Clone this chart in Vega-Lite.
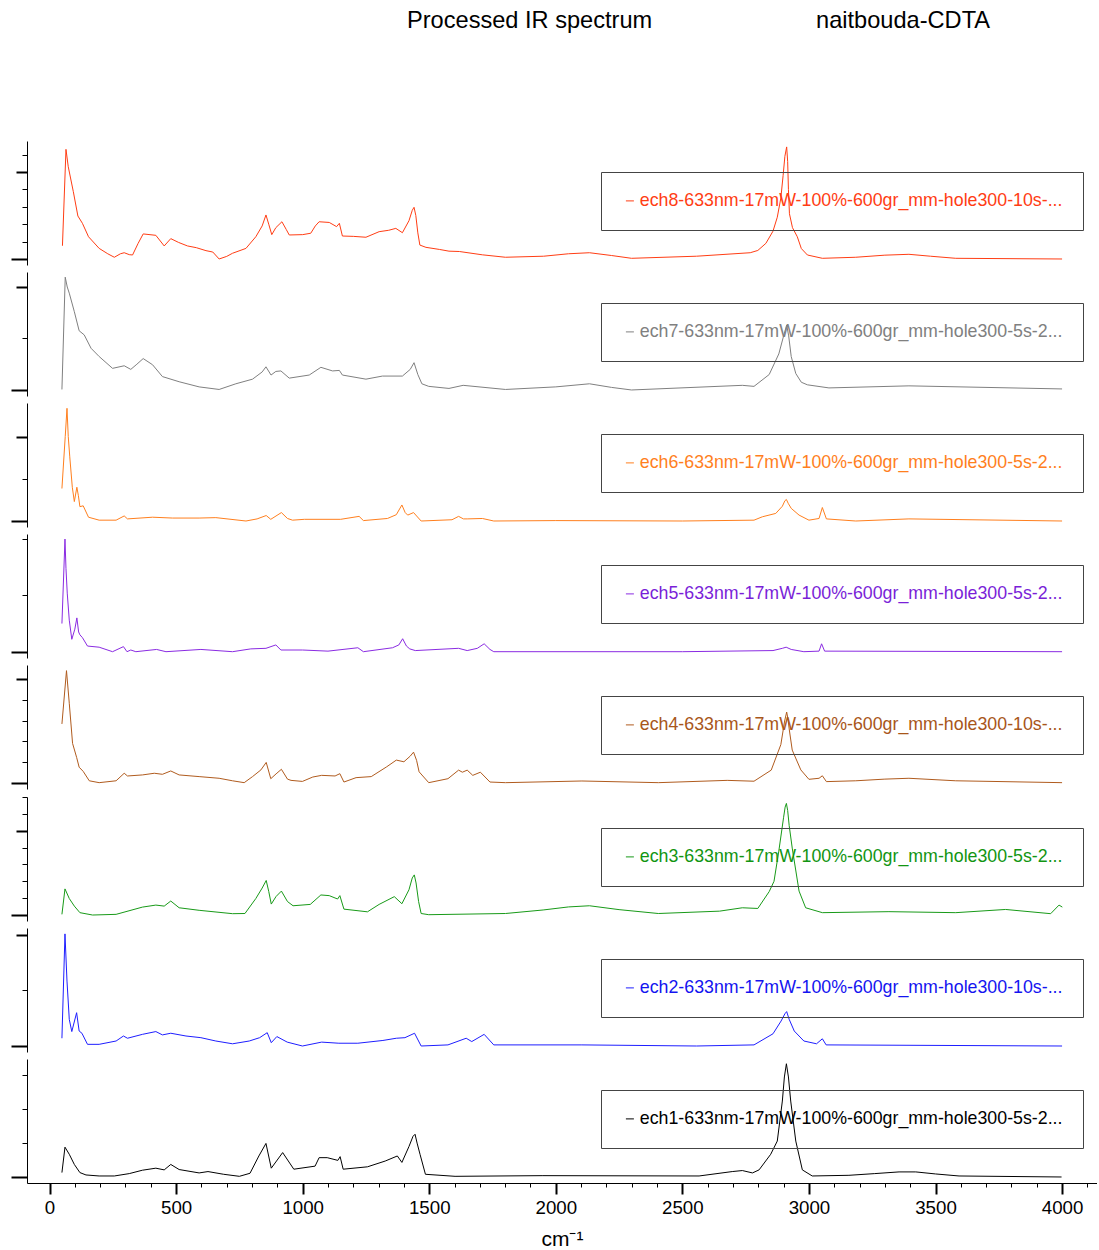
{
  "$schema": "https://vega.github.io/schema/vega-lite/v6.json",
  "padding": {"left": 10, "top": 9, "right": 0, "bottom": 0},
  "title": {
    "text": "Processed IR spectrum\u00a0\u00a0\u00a0\u00a0\u00a0\u00a0\u00a0\u00a0\u00a0\u00a0\u00a0\u00a0\u00a0\u00a0\u00a0\u00a0\u00a0\u00a0\u00a0\u00a0\u00a0\u00a0\u00a0\u00a0\u00a0naitbouda-CDTA",
    "anchor": "start", "dx": 397, "offset": 108,
    "font": "Liberation Sans", "fontSize": 23.6, "fontWeight": "normal", "color": "#000000"
  },
  "datasets": {
    "ech8": [{"x":51,"y":0.76},{"x":65,"y":6.3},{"x":74,"y":5.3},{"x":94,"y":3.87},{"x":112,"y":2.47},{"x":130,"y":2.05},{"x":154,"y":1.28},{"x":196,"y":0.61},{"x":230,"y":0.3},{"x":256,"y":0.1},{"x":280,"y":0.3},{"x":295,"y":0.36},{"x":315,"y":0.25},{"x":328,"y":0.23},{"x":350,"y":0.9},{"x":370,"y":1.44},{"x":420,"y":1.36},{"x":453,"y":0.75},{"x":479,"y":1.17},{"x":510,"y":0.95},{"x":545,"y":0.75},{"x":580,"y":0.65},{"x":618,"y":0.48},{"x":645,"y":0.4},{"x":670,"y":0.0},{"x":700,"y":0.15},{"x":723,"y":0.33},{"x":776,"y":0.61},{"x":815,"y":1.28},{"x":840,"y":1.9},{"x":855,"y":2.53},{"x":866,"y":2.0},{"x":878,"y":1.4},{"x":894,"y":1.8},{"x":918,"y":2.14},{"x":935,"y":1.7},{"x":947,"y":1.38},{"x":1000,"y":1.4},{"x":1032,"y":1.48},{"x":1050,"y":1.9},{"x":1065,"y":2.14},{"x":1105,"y":2.1},{"x":1134,"y":1.86},{"x":1145,"y":2.05},{"x":1157,"y":1.32},{"x":1200,"y":1.3},{"x":1250,"y":1.25},{"x":1302,"y":1.57},{"x":1340,"y":1.65},{"x":1368,"y":1.76},{"x":1394,"y":1.51},{"x":1420,"y":2.2},{"x":1433,"y":2.8},{"x":1440,"y":2.97},{"x":1447,"y":2.5},{"x":1455,"y":1.5},{"x":1463,"y":0.8},{"x":1487,"y":0.67},{"x":1540,"y":0.55},{"x":1578,"y":0.45},{"x":1619,"y":0.43},{"x":1710,"y":0.24},{"x":1801,"y":0.1},{"x":1952,"y":0.16},{"x":2050,"y":0.3},{"x":2133,"y":0.36},{"x":2220,"y":0.2},{"x":2299,"y":0.04},{"x":2556,"y":0.16},{"x":2768,"y":0.36},{"x":2798,"y":0.49},{"x":2830,"y":0.9},{"x":2858,"y":1.6},{"x":2875,"y":2.4},{"x":2889,"y":3.5},{"x":2898,"y":4.8},{"x":2905,"y":5.9},{"x":2912,"y":6.44},{"x":2916,"y":5.6},{"x":2919,"y":4.0},{"x":2923,"y":2.6},{"x":2935,"y":1.8},{"x":2954,"y":1.28},{"x":2970,"y":0.6},{"x":2994,"y":0.23},{"x":3053,"y":0.04},{"x":3185,"y":0.1},{"x":3300,"y":0.22},{"x":3395,"y":0.27},{"x":3480,"y":0.16},{"x":3580,"y":0.04},{"x":4000,"y":0.0}],
    "ech7": [{"x":49,"y":0.01},{"x":62,"y":2.19},{"x":70,"y":2.0},{"x":78,"y":1.88},{"x":98,"y":1.52},{"x":117,"y":1.15},{"x":137,"y":1.07},{"x":164,"y":0.81},{"x":196,"y":0.65},{"x":249,"y":0.42},{"x":295,"y":0.47},{"x":321,"y":0.4},{"x":345,"y":0.5},{"x":370,"y":0.61},{"x":407,"y":0.49},{"x":446,"y":0.26},{"x":512,"y":0.16},{"x":591,"y":0.06},{"x":670,"y":0.01},{"x":736,"y":0.12},{"x":802,"y":0.21},{"x":840,"y":0.35},{"x":855,"y":0.45},{"x":875,"y":0.29},{"x":894,"y":0.36},{"x":914,"y":0.37},{"x":947,"y":0.23},{"x":1026,"y":0.29},{"x":1072,"y":0.44},{"x":1118,"y":0.37},{"x":1145,"y":0.38},{"x":1157,"y":0.29},{"x":1250,"y":0.21},{"x":1315,"y":0.27},{"x":1394,"y":0.27},{"x":1425,"y":0.4},{"x":1440,"y":0.53},{"x":1455,"y":0.3},{"x":1471,"y":0.12},{"x":1498,"y":0.07},{"x":1578,"y":0.03},{"x":1634,"y":0.09},{"x":1801,"y":0.01},{"x":2000,"y":0.06},{"x":2133,"y":0.12},{"x":2220,"y":0.05},{"x":2299,"y":0.0},{"x":2737,"y":0.09},{"x":2783,"y":0.07},{"x":2843,"y":0.3},{"x":2881,"y":0.7},{"x":2900,"y":1.05},{"x":2912,"y":1.26},{"x":2920,"y":1.05},{"x":2930,"y":0.65},{"x":2948,"y":0.32},{"x":2970,"y":0.15},{"x":2994,"y":0.1},{"x":3079,"y":0.04},{"x":3395,"y":0.08},{"x":4000,"y":0.02}],
    "ech6": [{"x":49,"y":0.77},{"x":62,"y":2.0},{"x":69,"y":2.67},{"x":74,"y":2.0},{"x":80,"y":1.52},{"x":90,"y":0.8},{"x":98,"y":0.46},{"x":108,"y":0.8},{"x":114,"y":0.6},{"x":120,"y":0.34},{"x":133,"y":0.36},{"x":154,"y":0.09},{"x":196,"y":0.02},{"x":263,"y":0.02},{"x":295,"y":0.12},{"x":308,"y":0.05},{"x":407,"y":0.09},{"x":486,"y":0.07},{"x":591,"y":0.07},{"x":657,"y":0.08},{"x":776,"y":0.0},{"x":820,"y":0.05},{"x":856,"y":0.13},{"x":874,"y":0.04},{"x":916,"y":0.2},{"x":940,"y":0.06},{"x":960,"y":0.02},{"x":1007,"y":0.04},{"x":1150,"y":0.04},{"x":1223,"y":0.11},{"x":1240,"y":0.01},{"x":1335,"y":0.06},{"x":1370,"y":0.15},{"x":1392,"y":0.38},{"x":1405,"y":0.2},{"x":1415,"y":0.14},{"x":1438,"y":0.2},{"x":1468,"y":0.0},{"x":1590,"y":0.03},{"x":1616,"y":0.11},{"x":1635,"y":0.05},{"x":1650,"y":0.05},{"x":1710,"y":0.06},{"x":1755,"y":0.0},{"x":2000,"y":0.01},{"x":2500,"y":0.0},{"x":2783,"y":0.02},{"x":2816,"y":0.1},{"x":2869,"y":0.18},{"x":2895,"y":0.35},{"x":2905,"y":0.48},{"x":2911,"y":0.51},{"x":2918,"y":0.42},{"x":2930,"y":0.3},{"x":2961,"y":0.14},{"x":3000,"y":0.02},{"x":3040,"y":0.06},{"x":3053,"y":0.32},{"x":3069,"y":0.05},{"x":3185,"y":0.0},{"x":3395,"y":0.05},{"x":4000,"y":0.0}],
    "ech5": [{"x":49,"y":0.5},{"x":61,"y":2.0},{"x":65,"y":1.48},{"x":70,"y":1.04},{"x":78,"y":0.56},{"x":88,"y":0.22},{"x":100,"y":0.4},{"x":108,"y":0.6},{"x":115,"y":0.35},{"x":120,"y":0.3},{"x":130,"y":0.25},{"x":150,"y":0.1},{"x":196,"y":0.08},{"x":249,"y":0.0},{"x":292,"y":0.09},{"x":306,"y":0.0},{"x":321,"y":0.03},{"x":341,"y":0.0},{"x":423,"y":0.04},{"x":460,"y":0.0},{"x":598,"y":0.04},{"x":723,"y":0.0},{"x":795,"y":0.05},{"x":855,"y":0.06},{"x":894,"y":0.12},{"x":914,"y":0.03},{"x":999,"y":0.03},{"x":1100,"y":0.01},{"x":1218,"y":0.07},{"x":1240,"y":0.0},{"x":1355,"y":0.07},{"x":1380,"y":0.12},{"x":1395,"y":0.23},{"x":1410,"y":0.1},{"x":1423,"y":0.05},{"x":1445,"y":0.02},{"x":1616,"y":0.06},{"x":1650,"y":0.02},{"x":1690,"y":0.06},{"x":1717,"y":0.14},{"x":1740,"y":0.04},{"x":1755,"y":0.0},{"x":2500,"y":0.0},{"x":2858,"y":0.02},{"x":2895,"y":0.06},{"x":2910,"y":0.08},{"x":2930,"y":0.04},{"x":2980,"y":0.0},{"x":3040,"y":0.01},{"x":3050,"y":0.14},{"x":3062,"y":0.01},{"x":4000,"y":0.0}],
    "ech4": [{"x":49,"y":2.84},{"x":67,"y":5.39},{"x":78,"y":3.83},{"x":91,"y":1.91},{"x":107,"y":1.24},{"x":117,"y":0.77},{"x":133,"y":0.57},{"x":157,"y":0.12},{"x":196,"y":0.03},{"x":263,"y":0.12},{"x":295,"y":0.48},{"x":308,"y":0.35},{"x":367,"y":0.4},{"x":414,"y":0.48},{"x":446,"y":0.43},{"x":479,"y":0.59},{"x":512,"y":0.4},{"x":591,"y":0.32},{"x":670,"y":0.24},{"x":723,"y":0.12},{"x":769,"y":0.03},{"x":802,"y":0.32},{"x":835,"y":0.64},{"x":856,"y":1.0},{"x":874,"y":0.22},{"x":895,"y":0.45},{"x":916,"y":0.67},{"x":940,"y":0.2},{"x":954,"y":0.14},{"x":999,"y":0.09},{"x":1040,"y":0.3},{"x":1075,"y":0.38},{"x":1128,"y":0.35},{"x":1147,"y":0.46},{"x":1163,"y":0.06},{"x":1211,"y":0.27},{"x":1271,"y":0.32},{"x":1332,"y":0.79},{"x":1370,"y":1.11},{"x":1400,"y":1.03},{"x":1425,"y":1.3},{"x":1438,"y":1.49},{"x":1450,"y":1.1},{"x":1460,"y":0.55},{"x":1498,"y":0.03},{"x":1574,"y":0.22},{"x":1616,"y":0.63},{"x":1631,"y":0.53},{"x":1650,"y":0.63},{"x":1672,"y":0.38},{"x":1702,"y":0.53},{"x":1740,"y":0.06},{"x":1801,"y":0.03},{"x":2103,"y":0.11},{"x":2405,"y":0.03},{"x":2677,"y":0.14},{"x":2783,"y":0.1},{"x":2851,"y":0.63},{"x":2889,"y":1.85},{"x":2904,"y":2.98},{"x":2912,"y":3.41},{"x":2917,"y":3.1},{"x":2922,"y":2.6},{"x":2934,"y":1.59},{"x":2968,"y":0.64},{"x":3000,"y":0.19},{"x":3040,"y":0.24},{"x":3053,"y":0.36},{"x":3069,"y":0.08},{"x":3185,"y":0.12},{"x":3300,"y":0.2},{"x":3395,"y":0.24},{"x":3580,"y":0.12},{"x":4000,"y":0.03}],
    "ech3": [{"x":49,"y":0.04},{"x":61,"y":1.55},{"x":78,"y":0.98},{"x":98,"y":0.53},{"x":120,"y":0.14},{"x":170,"y":0.0},{"x":263,"y":0.04},{"x":367,"y":0.47},{"x":420,"y":0.59},{"x":453,"y":0.53},{"x":479,"y":0.83},{"x":512,"y":0.43},{"x":591,"y":0.28},{"x":723,"y":0.08},{"x":772,"y":0.09},{"x":815,"y":0.98},{"x":840,"y":1.6},{"x":856,"y":2.05},{"x":866,"y":1.4},{"x":876,"y":0.65},{"x":895,"y":1.1},{"x":916,"y":1.42},{"x":940,"y":0.8},{"x":962,"y":0.55},{"x":1030,"y":0.63},{"x":1072,"y":1.19},{"x":1105,"y":1.15},{"x":1138,"y":0.95},{"x":1147,"y":1.15},{"x":1163,"y":0.35},{"x":1256,"y":0.19},{"x":1302,"y":0.63},{"x":1362,"y":1.09},{"x":1392,"y":0.67},{"x":1420,"y":1.5},{"x":1433,"y":2.2},{"x":1441,"y":2.38},{"x":1448,"y":1.9},{"x":1458,"y":0.8},{"x":1468,"y":0.09},{"x":1498,"y":0.02},{"x":1801,"y":0.09},{"x":1950,"y":0.3},{"x":2050,"y":0.48},{"x":2133,"y":0.55},{"x":2250,"y":0.32},{"x":2405,"y":0.09},{"x":2647,"y":0.23},{"x":2737,"y":0.43},{"x":2798,"y":0.39},{"x":2843,"y":1.39},{"x":2862,"y":2.0},{"x":2881,"y":3.79},{"x":2900,"y":5.8},{"x":2906,"y":6.4},{"x":2911,"y":6.62},{"x":2916,"y":6.2},{"x":2922,"y":5.3},{"x":2934,"y":3.97},{"x":2961,"y":1.42},{"x":2987,"y":0.43},{"x":3053,"y":0.14},{"x":3316,"y":0.2},{"x":3580,"y":0.14},{"x":3777,"y":0.33},{"x":3955,"y":0.08},{"x":3988,"y":0.59},{"x":4001,"y":0.47}],
    "ech2": [{"x":49,"y":0.14},{"x":61,"y":2.02},{"x":69,"y":1.17},{"x":78,"y":0.48},{"x":88,"y":0.26},{"x":107,"y":0.6},{"x":117,"y":0.27},{"x":128,"y":0.23},{"x":150,"y":0.03},{"x":196,"y":0.03},{"x":263,"y":0.09},{"x":292,"y":0.18},{"x":308,"y":0.14},{"x":367,"y":0.21},{"x":420,"y":0.26},{"x":446,"y":0.2},{"x":479,"y":0.23},{"x":539,"y":0.18},{"x":598,"y":0.15},{"x":657,"y":0.09},{"x":723,"y":0.04},{"x":789,"y":0.09},{"x":830,"y":0.15},{"x":860,"y":0.24},{"x":876,"y":0.06},{"x":898,"y":0.17},{"x":939,"y":0.07},{"x":999,"y":0.0},{"x":1075,"y":0.07},{"x":1143,"y":0.05},{"x":1218,"y":0.05},{"x":1317,"y":0.1},{"x":1370,"y":0.14},{"x":1404,"y":0.15},{"x":1442,"y":0.23},{"x":1468,"y":0.0},{"x":1574,"y":0.02},{"x":1646,"y":0.14},{"x":1668,"y":0.08},{"x":1717,"y":0.21},{"x":1755,"y":0.02},{"x":2103,"y":0.02},{"x":2556,"y":0.0},{"x":2783,"y":0.02},{"x":2858,"y":0.22},{"x":2890,"y":0.45},{"x":2905,"y":0.58},{"x":2912,"y":0.62},{"x":2922,"y":0.48},{"x":2942,"y":0.27},{"x":2980,"y":0.09},{"x":3030,"y":0.04},{"x":3053,"y":0.13},{"x":3068,"y":0.02},{"x":4000,"y":0.0}],
    "ech1": [{"x":49,"y":0.13},{"x":61,"y":0.88},{"x":78,"y":0.67},{"x":98,"y":0.37},{"x":120,"y":0.13},{"x":144,"y":0.06},{"x":196,"y":0.03},{"x":256,"y":0.03},{"x":315,"y":0.1},{"x":367,"y":0.2},{"x":420,"y":0.26},{"x":453,"y":0.21},{"x":479,"y":0.37},{"x":512,"y":0.22},{"x":591,"y":0.12},{"x":626,"y":0.16},{"x":688,"y":0.08},{"x":750,"y":0.02},{"x":792,"y":0.11},{"x":827,"y":0.62},{"x":855,"y":0.99},{"x":876,"y":0.26},{"x":921,"y":0.72},{"x":965,"y":0.23},{"x":1049,"y":0.32},{"x":1065,"y":0.57},{"x":1097,"y":0.57},{"x":1139,"y":0.49},{"x":1148,"y":0.6},{"x":1160,"y":0.23},{"x":1256,"y":0.3},{"x":1326,"y":0.47},{"x":1374,"y":0.62},{"x":1392,"y":0.43},{"x":1420,"y":0.9},{"x":1436,"y":1.2},{"x":1444,"y":1.26},{"x":1452,"y":1.0},{"x":1464,"y":0.66},{"x":1485,"y":0.08},{"x":1602,"y":0.02},{"x":1949,"y":0.04},{"x":2566,"y":0.03},{"x":2697,"y":0.16},{"x":2737,"y":0.19},{"x":2777,"y":0.12},{"x":2803,"y":0.21},{"x":2849,"y":0.67},{"x":2875,"y":1.06},{"x":2895,"y":2.24},{"x":2903,"y":2.95},{"x":2911,"y":3.34},{"x":2919,"y":2.95},{"x":2928,"y":2.24},{"x":2948,"y":1.06},{"x":2974,"y":0.21},{"x":3013,"y":0.03},{"x":3158,"y":0.05},{"x":3260,"y":0.1},{"x":3356,"y":0.15},{"x":3422,"y":0.15},{"x":3500,"y":0.09},{"x":3593,"y":0.03},{"x":3998,"y":0.0}]
  },
  "spacing": 7,
  "resolve": {"scale": {"color": "independent", "y": "independent", "x": "independent"}, "legend": {"color": "independent"}},
  "vconcat": [
    {
      "width": 1070, "height": 124, "data": {"name": "ech8"},
      "mark": {"type": "line", "strokeWidth": 1},
      "encoding": {
        "x": {"field": "x", "type": "quantitative", "scale": {"domain": [-89, 4138], "nice": false, "zero": false}, "axis": null},
        "y": {"field": "y", "type": "quantitative", "scale": {"domain": [-0.345, 6.78], "nice": false, "zero": false},
          "axis": {"values": [0,1,2,3,4,5,6], "labels": false, "title": null,
            "tickSize": {"condition": [{"test": "datum.value === 0", "value": 16}, {"test": "datum.value === 5", "value": 11}], "value": 5},
            "tickWidth": {"condition": {"test": "datum.value === 0 || datum.value === 5", "value": 2}, "value": 1}}},
        "color": {"datum": "ech8-633nm-17mW-100%-600gr_mm-hole300-10s-...", "type": "nominal", "scale": {"range": ["#ff3d14"]},
          "legend": {"orient": "none", "legendX": 574, "legendY": 31, "labelColor": "#ff3d14", "title": null}}
      }
    },
    {
      "width": 1070, "height": 124, "data": {"name": "ech7"},
      "mark": {"type": "line", "strokeWidth": 1},
      "encoding": {
        "x": {"field": "x", "type": "quantitative", "scale": {"domain": [-89, 4138], "nice": false, "zero": false}, "axis": null},
        "y": {"field": "y", "type": "quantitative", "scale": {"domain": [-0.117, 2.291], "nice": false, "zero": false},
          "axis": {"values": [0,1,2], "labels": false, "title": null,
            "tickSize": {"condition": [{"test": "datum.value === 0", "value": 16}, {"test": "datum.value === 2", "value": 11}], "value": 5},
            "tickWidth": {"condition": {"test": "datum.value === 0 || datum.value === 2", "value": 2}, "value": 1}}},
        "color": {"datum": "ech7-633nm-17mW-100%-600gr_mm-hole300-5s-2...", "type": "nominal", "scale": {"range": ["#808080"]},
          "legend": {"orient": "none", "legendX": 574, "legendY": 31, "labelColor": "#808080", "title": null}}
      }
    },
    {
      "width": 1070, "height": 124, "data": {"name": "ech6"},
      "mark": {"type": "line", "strokeWidth": 1},
      "encoding": {
        "x": {"field": "x", "type": "quantitative", "scale": {"domain": [-89, 4138], "nice": false, "zero": false}, "axis": null},
        "y": {"field": "y", "type": "quantitative", "scale": {"domain": [-0.142, 2.796], "nice": false, "zero": false},
          "axis": {"values": [0,1,2], "labels": false, "title": null,
            "tickSize": {"condition": [{"test": "datum.value === 0", "value": 16}, {"test": "datum.value === 2", "value": 11}], "value": 5},
            "tickWidth": {"condition": {"test": "datum.value === 0 || datum.value === 2", "value": 2}, "value": 1}}},
        "color": {"datum": "ech6-633nm-17mW-100%-600gr_mm-hole300-5s-2...", "type": "nominal", "scale": {"range": ["#ff7f1e"]},
          "legend": {"orient": "none", "legendX": 574, "legendY": 31, "labelColor": "#ff7f1e", "title": null}}
      }
    },
    {
      "width": 1070, "height": 124, "data": {"name": "ech5"},
      "mark": {"type": "line", "strokeWidth": 1},
      "encoding": {
        "x": {"field": "x", "type": "quantitative", "scale": {"domain": [-89, 4138], "nice": false, "zero": false}, "axis": null},
        "y": {"field": "y", "type": "quantitative", "scale": {"domain": [-0.112, 2.09], "nice": false, "zero": false},
          "axis": {"values": [0,1,2], "labels": false, "title": null,
            "tickSize": {"condition": {"test": "datum.value === 0", "value": 16}, "value": 5},
            "tickWidth": {"condition": {"test": "datum.value === 0", "value": 2}, "value": 1}}},
        "color": {"datum": "ech5-633nm-17mW-100%-600gr_mm-hole300-5s-2...", "type": "nominal", "scale": {"range": ["#8a2be2"]},
          "legend": {"orient": "none", "legendX": 574, "legendY": 31, "labelColor": "#7a1fd8", "title": null}}
      }
    },
    {
      "width": 1070, "height": 124, "data": {"name": "ech4"},
      "mark": {"type": "line", "strokeWidth": 1},
      "encoding": {
        "x": {"field": "x", "type": "quantitative", "scale": {"domain": [-89, 4138], "nice": false, "zero": false}, "axis": null},
        "y": {"field": "y", "type": "quantitative", "scale": {"domain": [-0.273, 5.66], "nice": false, "zero": false},
          "axis": {"values": [0,1,2,3,4,5], "labels": false, "title": null,
            "tickSize": {"condition": [{"test": "datum.value === 0", "value": 16}, {"test": "datum.value === 5", "value": 11}], "value": 5},
            "tickWidth": {"condition": {"test": "datum.value === 0 || datum.value === 5", "value": 2}, "value": 1}}},
        "color": {"datum": "ech4-633nm-17mW-100%-600gr_mm-hole300-10s-...", "type": "nominal", "scale": {"range": ["#b05b1e"]},
          "legend": {"orient": "none", "legendX": 574, "legendY": 31, "labelColor": "#a8561a", "title": null}}
      }
    },
    {
      "width": 1070, "height": 124, "data": {"name": "ech3"},
      "mark": {"type": "line", "strokeWidth": 1},
      "encoding": {
        "x": {"field": "x", "type": "quantitative", "scale": {"domain": [-89, 4138], "nice": false, "zero": false}, "axis": null},
        "y": {"field": "y", "type": "quantitative", "scale": {"domain": [-0.354, 7.0], "nice": false, "zero": false},
          "axis": {"values": [0,1,2,3,4,5,6,7], "labels": false, "title": null,
            "tickSize": {"condition": [{"test": "datum.value === 0", "value": 16}, {"test": "datum.value === 5", "value": 11}], "value": 5},
            "tickWidth": {"condition": {"test": "datum.value === 0 || datum.value === 5", "value": 2}, "value": 1}}},
        "color": {"datum": "ech3-633nm-17mW-100%-600gr_mm-hole300-5s-2...", "type": "nominal", "scale": {"range": ["#189a18"]},
          "legend": {"orient": "none", "legendX": 574, "legendY": 31, "labelColor": "#129512", "title": null}}
      }
    },
    {
      "width": 1070, "height": 124, "data": {"name": "ech2"},
      "mark": {"type": "line", "strokeWidth": 1},
      "encoding": {
        "x": {"field": "x", "type": "quantitative", "scale": {"domain": [-89, 4138], "nice": false, "zero": false}, "axis": null},
        "y": {"field": "y", "type": "quantitative", "scale": {"domain": [-0.108, 2.126], "nice": false, "zero": false},
          "axis": {"values": [0,1,2], "labels": false, "title": null,
            "tickSize": {"condition": [{"test": "datum.value === 0", "value": 16}, {"test": "datum.value === 2", "value": 11}], "value": 5},
            "tickWidth": {"condition": {"test": "datum.value === 0 || datum.value === 2", "value": 2}, "value": 1}}},
        "color": {"datum": "ech2-633nm-17mW-100%-600gr_mm-hole300-10s-...", "type": "nominal", "scale": {"range": ["#1e1eff"]},
          "legend": {"orient": "none", "legendX": 574, "legendY": 31, "labelColor": "#1414f0", "title": null}}
      }
    },
    {
      "width": 1070, "height": 124, "data": {"name": "ech1"},
      "mark": {"type": "line", "strokeWidth": 1},
      "encoding": {
        "x": {"field": "x", "type": "quantitative", "scale": {"domain": [-89, 4138], "nice": false, "zero": false},
          "axis": {"values": [0,100,200,300,400,500,600,700,800,900,1000,1100,1200,1300,1400,1500,1600,1700,1800,1900,2000,2100,2200,2300,2400,2500,2600,2700,2800,2900,3000,3100,3200,3300,3400,3500,3600,3700,3800,3900,4000,4100],
            "labelExpr": "datum.value % 500 === 0 ? format(datum.value, 'd') : ''",
            "labelOverlap": false, "labelFlush": false, "labelFontSize": 18.7, "labelPadding": 4,
            "tickSize": {"condition": {"test": "datum.value % 500 === 0", "value": 11}, "value": 4},
            "tickWidth": {"condition": {"test": "datum.value % 500 === 0", "value": 2}, "value": 1},
            "title": "cm⁻¹", "titleFontSize": 21, "titleFontWeight": "normal", "titlePadding": 12}},
        "y": {"field": "y", "type": "quantitative", "scale": {"domain": [-0.177, 3.48], "nice": false, "zero": false},
          "axis": {"values": [0,1,2,3], "labels": false, "title": null,
            "tickSize": {"condition": {"test": "datum.value === 0", "value": 16}, "value": 5},
            "tickWidth": {"condition": {"test": "datum.value === 0", "value": 2}, "value": 1}}},
        "color": {"datum": "ech1-633nm-17mW-100%-600gr_mm-hole300-5s-2...", "type": "nominal", "scale": {"range": ["#000000"]},
          "legend": {"orient": "none", "legendX": 574, "legendY": 31, "labelColor": "#000000", "title": null}}
      }
    }
  ],
  "config": {
    "view": {"stroke": null},
    "font": "Liberation Sans",
    "axis": {"grid": false, "domainColor": "#000000", "tickColor": "#000000", "labelColor": "#000000", "titleColor": "#000000", "labelFont": "Liberation Sans", "titleFont": "Liberation Sans", "domainWidth": 1},
    "legend": {"labelFont": "Liberation Sans", "labelFontSize": 17.8, "padding": 20, "strokeColor": "#444444", "symbolType": "stroke", "symbolSize": 64, "symbolStrokeWidth": 1, "labelOffset": 1, "labelLimit": 800}
  }
}
